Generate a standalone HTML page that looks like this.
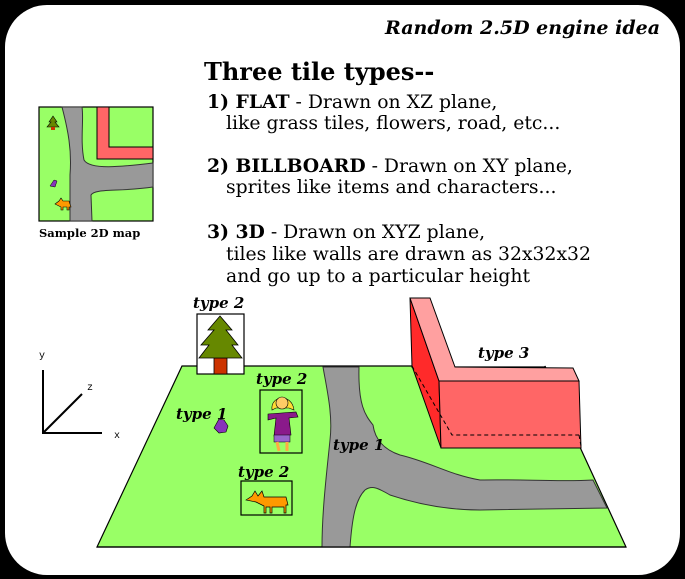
<!DOCTYPE html>
<html><head><meta charset="utf-8"><style>
html,body{margin:0;padding:0;background:#000;}
svg{display:block;}
.t{font-family:"DejaVu Serif","Liberation Serif",serif;}
</style></head><body>
<svg width="685" height="579" viewBox="0 0 685 579" xmlns="http://www.w3.org/2000/svg">
<rect x="0" y="0" width="685" height="579" fill="#000"/>
<rect x="5" y="5" width="675" height="570" rx="42" fill="#fff"/>
<text x="660" y="34" text-anchor="end" class="t" font-size="19" font-weight="bold" font-style="italic">Random 2.5D engine idea</text>
<text x="204" y="80" class="t" font-size="24" font-weight="bold">Three tile types--</text>
<g class="t" font-size="18.8">
<text x="207" y="108"><tspan font-weight="bold">1) FLAT</tspan> - Drawn on XZ plane,</text>
<text x="226" y="129">like grass tiles, flowers, road, etc...</text>
<text x="207" y="172"><tspan font-weight="bold">2) BILLBOARD</tspan> - Drawn on XY plane,</text>
<text x="226" y="193">sprites like items and characters...</text>
<text x="207" y="238"><tspan font-weight="bold">3) 3D</tspan> - Drawn on XYZ plane,</text>
<text x="226" y="260">tiles like walls are drawn as 32x32x32</text>
<text x="226" y="282">and go up to a particular height</text>
</g>
<!-- sample map -->
<rect x="39" y="107" width="114" height="114" fill="#99ff66" stroke="#000" stroke-width="1.2"/>
<path d="M62,107 C68,130 72,150 70,175 L70,221 L92,221 L91,195 C95,188 120,192 153,187 L153,163 C120,167 90,170 84,160 C80,140 84,120 82,107 Z" fill="#999" stroke="#333" stroke-width="1"/>
<path d="M97,107 L109,107 L109,147 L153,147 L153,159 L97,159 Z" fill="#ff6666" stroke="#000" stroke-width="1"/>
<polygon points="53,116 49,122 51,122 47,127 59,127 55,122 57,122" fill="#668800" stroke="#000" stroke-width="0.6"/>
<rect x="51" y="127" width="4" height="3" fill="#cc3300"/>
<path d="M50,186 l4,-6 l3,1 l-2,6 z" fill="#8833bb" stroke="#000" stroke-width="0.5"/>
<path d="M55,204 l4,-3 l2,-3 l2,3 l6,0 l2,6 l-2,0 l0,3 l-2,0 l0,-3 l-4,0 l0,3 l-2,0 l0,-3 z" fill="#ff9900" stroke="#000" stroke-width="0.6"/>
<text x="39" y="237" class="t" font-size="11.5" font-weight="bold">Sample 2D map</text>
<!-- axes -->
<g stroke="#000" stroke-width="2"><line x1="43" y1="370" x2="43" y2="434"/><line x1="42" y1="433" x2="102" y2="433"/><line x1="43" y1="433" x2="82" y2="394"/></g>
<g font-family="Liberation Mono,monospace" font-size="10"><text x="39" y="358">y</text><text x="87" y="390">z</text><text x="114" y="438">x</text></g>
<!-- ground -->
<polygon points="182,366 412,366 412,367 545,367 545,366 579,445 626,547 97,547" fill="#99ff66" stroke="#000" stroke-width="1.2"/>
<path d="M323,367 C327,390 333,415 330,440 C327,470 322,510 322,547 L350,547 C352,520 355,500 365,490 C372,485 378,488 390,495 C420,505 450,510 480,510 L607,508 L593,480 C560,482 520,479 480,480 C450,475 430,462 400,455 C385,450 375,440 373,425 C365,415 358,405 359,367 Z" fill="#999" stroke="#333" stroke-width="1"/>
<line x1="97" y1="547" x2="626" y2="547" stroke="#000" stroke-width="1.2"/>
<!-- wall -->
<polygon points="410,298 439,381 441,448 412,366" fill="#ff2a2a" stroke="#000" stroke-width="1"/>
<polygon points="410,298 430,298 455,367 573,368 579,381 439,381" fill="#ffa0a0" stroke="#000" stroke-width="1"/>
<polygon points="439,381 579,381 581,448 441,448" fill="#ff6666" stroke="#000" stroke-width="1"/>
<g stroke="#000" stroke-width="1" stroke-dasharray="4,3" fill="none"><polyline points="412,366 452,435 579,435"/><line x1="579" y1="435" x2="581" y2="446"/></g>
<!-- tree -->
<rect x="197" y="314" width="47" height="60" fill="#fff" stroke="#000" stroke-width="1.2"/>
<rect x="214" y="358" width="13" height="16" fill="#cc3300" stroke="#000" stroke-width="0.8"/>
<polygon points="220,316 208,330 214,330 201,345 209,345 199,358 242,358 232,345 238,345 226,330 232,330" fill="#668800" stroke="#000" stroke-width="0.8"/>
<!-- girl -->
<rect x="260" y="390" width="42" height="63" fill="#99ff66" stroke="#000" stroke-width="1.2"/>
<path d="M272,410 C270,395 292,393 294,410 L289,408 L276,408 Z" fill="#ffdd33" stroke="#000" stroke-width="0.6"/>
<circle cx="282" cy="403" r="6" fill="#ffcc66" stroke="#000" stroke-width="0.6"/>
<path d="M268,414 L296,412 L298,417 L289,418 L291,435 L274,436 L276,418 L268,420 Z" fill="#8a1a8a" stroke="#000" stroke-width="0.6"/>
<rect x="274" y="435" width="16" height="7" fill="#9966cc" stroke="#000" stroke-width="0.5"/>
<path d="M277,442 l2,9 M287,442 l0,9" stroke="#ffaa44" stroke-width="3"/>
<!-- flower -->
<path d="M214,428 l5,-9 l5,1 l4,6 l-2,6 l-7,1 z" fill="#8833bb" stroke="#000" stroke-width="0.6"/>
<!-- dog -->
<rect x="241" y="481" width="51" height="34" fill="#99ff66" stroke="#000" stroke-width="1.2"/>
<path d="M246,500 l6,-4 l3,-5 l3,5 l4,-5 l2,6 l22,0 l2,8 l-2,0 l0,8 l-2,0 l0,-6 l-12,0 l0,6 l-2,0 l0,-6 l-4,0 l0,6 l-2,0 l0,-7 l-8,-4 z" fill="#ff9900" stroke="#000" stroke-width="0.7"/>
<!-- labels -->
<g class="t" font-size="15" font-weight="bold" font-style="italic">
<text x="193" y="308">type 2</text>
<text x="256" y="384">type 2</text>
<text x="176" y="419">type 1</text>
<text x="238" y="477">type 2</text>
<text x="333" y="450">type 1</text>
<text x="478" y="358">type 3</text>
</g>
</svg>
</body></html>
